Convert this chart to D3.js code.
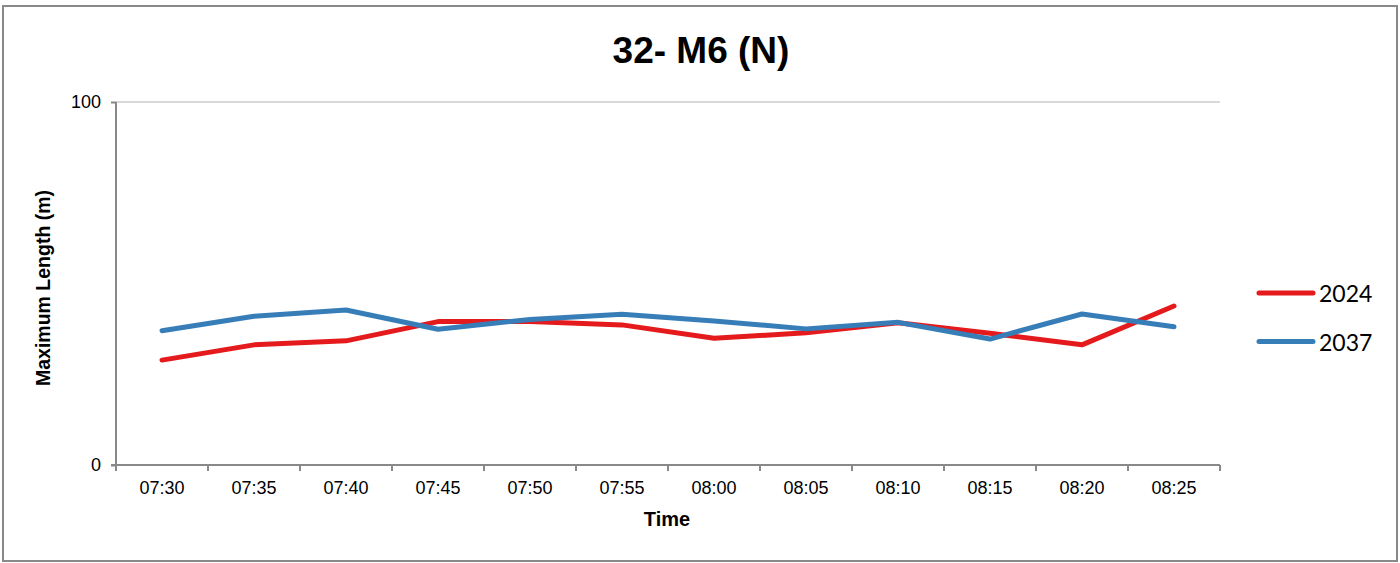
<!DOCTYPE html>
<html>
<head>
<meta charset="utf-8">
<script src="https://cdn.jsdelivr.net/npm/d3@7"></script>
<style>
  body { margin: 0; background: #fff; }
  svg { display: block; font-family: "Liberation Sans", Arial, sans-serif; }
  .axis path, .axis line { stroke: #898989; stroke-width: 2; }
  .axis text { fill: #000; font-size: 18px; font-family: "Liberation Sans", Arial, sans-serif; }
</style>
</head>
<body>
<div id="chart"></div>
<script>
var width = 1400;
var height = 563;

var times = ["07:30", "07:35", "07:40", "07:45", "07:50", "07:55",
  "08:00", "08:05", "08:10", "08:15", "08:20", "08:25"];
var seriesNames = ["2024", "2037"];
var values2024 = [28.9, 33.1, 34.2, 39.5, 39.5, 38.6, 34.9, 36.4, 39.2, 36.3, 33.1, 43.8];
var values2037 = [37.0, 41.0, 42.7, 37.4, 40.1, 41.5, 39.7, 37.5, 39.3, 34.7, 41.6, 38.1];
var yTicks = [0, 100];
var colors = ["#e41a1c", "#377eb8"];

var series = [
  { name: seriesNames[0], values: values2024, color: colors[0] },
  { name: seriesNames[1], values: values2037, color: colors[1] }
];

var plotLeft = 116, plotRight = 1220, plotTop = 102, plotBottom = 465;

var svg = d3.select("#chart")
  .append("svg")
  .attr("width", width)
  .attr("height", height);

// outer frame
svg.append("rect")
  .attr("x", 3)
  .attr("y", 6)
  .attr("width", 1394)
  .attr("height", 555)
  .attr("fill", "none")
  .attr("stroke", "#898989")
  .attr("stroke-width", 2);

var xScale = d3.scaleBand()
  .domain(times)
  .range([plotLeft, plotRight]);

var yScale = d3.scaleLinear()
  .domain([0, 100])
  .range([plotBottom, plotTop]);

// gridline at top tick
svg.append("g")
  .selectAll("line")
  .data(yTicks.filter(function(d) { return d > 0; }))
  .enter()
  .append("line")
  .attr("x1", plotLeft)
  .attr("x2", plotRight)
  .attr("y1", function(d) { return yScale(d); })
  .attr("y2", function(d) { return yScale(d); })
  .attr("stroke", "#d9d9d9")
  .attr("stroke-width", 2);

// y axis
var yAxis = d3.axisLeft(yScale).tickValues(yTicks).tickSize(5).tickPadding(10);
svg.append("g")
  .attr("class", "axis")
  .attr("transform", "translate(" + plotLeft + ",0)")
  .call(yAxis)
  .call(function(g) { g.select(".domain").attr("d", "M0," + plotTop + "V" + plotBottom); });

// x axis, ticks on band boundaries
var xAxis = d3.axisBottom(xScale).tickSize(0).tickPadding(16);
var xg = svg.append("g")
  .attr("class", "axis")
  .attr("transform", "translate(0," + plotBottom + ")")
  .call(xAxis);
xg.select(".domain").attr("d", "M" + (plotLeft - 5) + ",0H" + plotRight);
xg.selectAll(".bound")
  .data(times.concat(["end"]))
  .enter()
  .append("line")
  .attr("class", "bound")
  .attr("x1", function(d, i) { return plotLeft + i * xScale.step(); })
  .attr("x2", function(d, i) { return plotLeft + i * xScale.step(); })
  .attr("y1", 0)
  .attr("y2", 6);

// lines
var line = d3.line()
  .x(function(d, i) { return xScale(times[i]) + xScale.bandwidth() / 2; })
  .y(function(d) { return yScale(d); });

svg.append("g")
  .selectAll("path")
  .data(series)
  .enter()
  .append("path")
  .attr("d", function(s) { return line(s.values); })
  .attr("fill", "none")
  .attr("stroke", function(s) { return s.color; })
  .attr("stroke-width", 5)
  .attr("stroke-linecap", "round")
  .attr("stroke-linejoin", "round");

// title
svg.append("text")
  .attr("x", 701)
  .attr("y", 63)
  .attr("text-anchor", "middle")
  .style("font-size", "37px")
  .style("font-weight", "bold")
  .text("32- M6 (N)");

// axis labels
svg.append("text")
  .attr("x", 667)
  .attr("y", 526)
  .attr("text-anchor", "middle")
  .style("font-size", "20px")
  .style("font-weight", "bold")
  .text("Time");

svg.append("text")
  .attr("transform", "translate(50,288) rotate(-90)")
  .attr("text-anchor", "middle")
  .style("font-size", "19.5px")
  .style("font-weight", "bold")
  .text("Maximum Length (m)");

// legend
var legend = svg.append("g")
  .selectAll("g")
  .data(series)
  .enter()
  .append("g")
  .attr("transform", function(d, i) { return "translate(1259," + (293 + i * 48.5) + ")"; });

legend.append("line")
  .attr("x1", 0)
  .attr("x2", 54)
  .attr("stroke", function(d) { return d.color; })
  .attr("stroke-width", 5)
  .attr("stroke-linecap", "round");

legend.append("text")
  .attr("x", 60)
  .attr("y", 9)
  .style("font-size", "23px")
  .style("font-family", "Lato, 'Liberation Sans', sans-serif")
  .text(function(d) { return d.name; });
</script>
</body>
</html>
